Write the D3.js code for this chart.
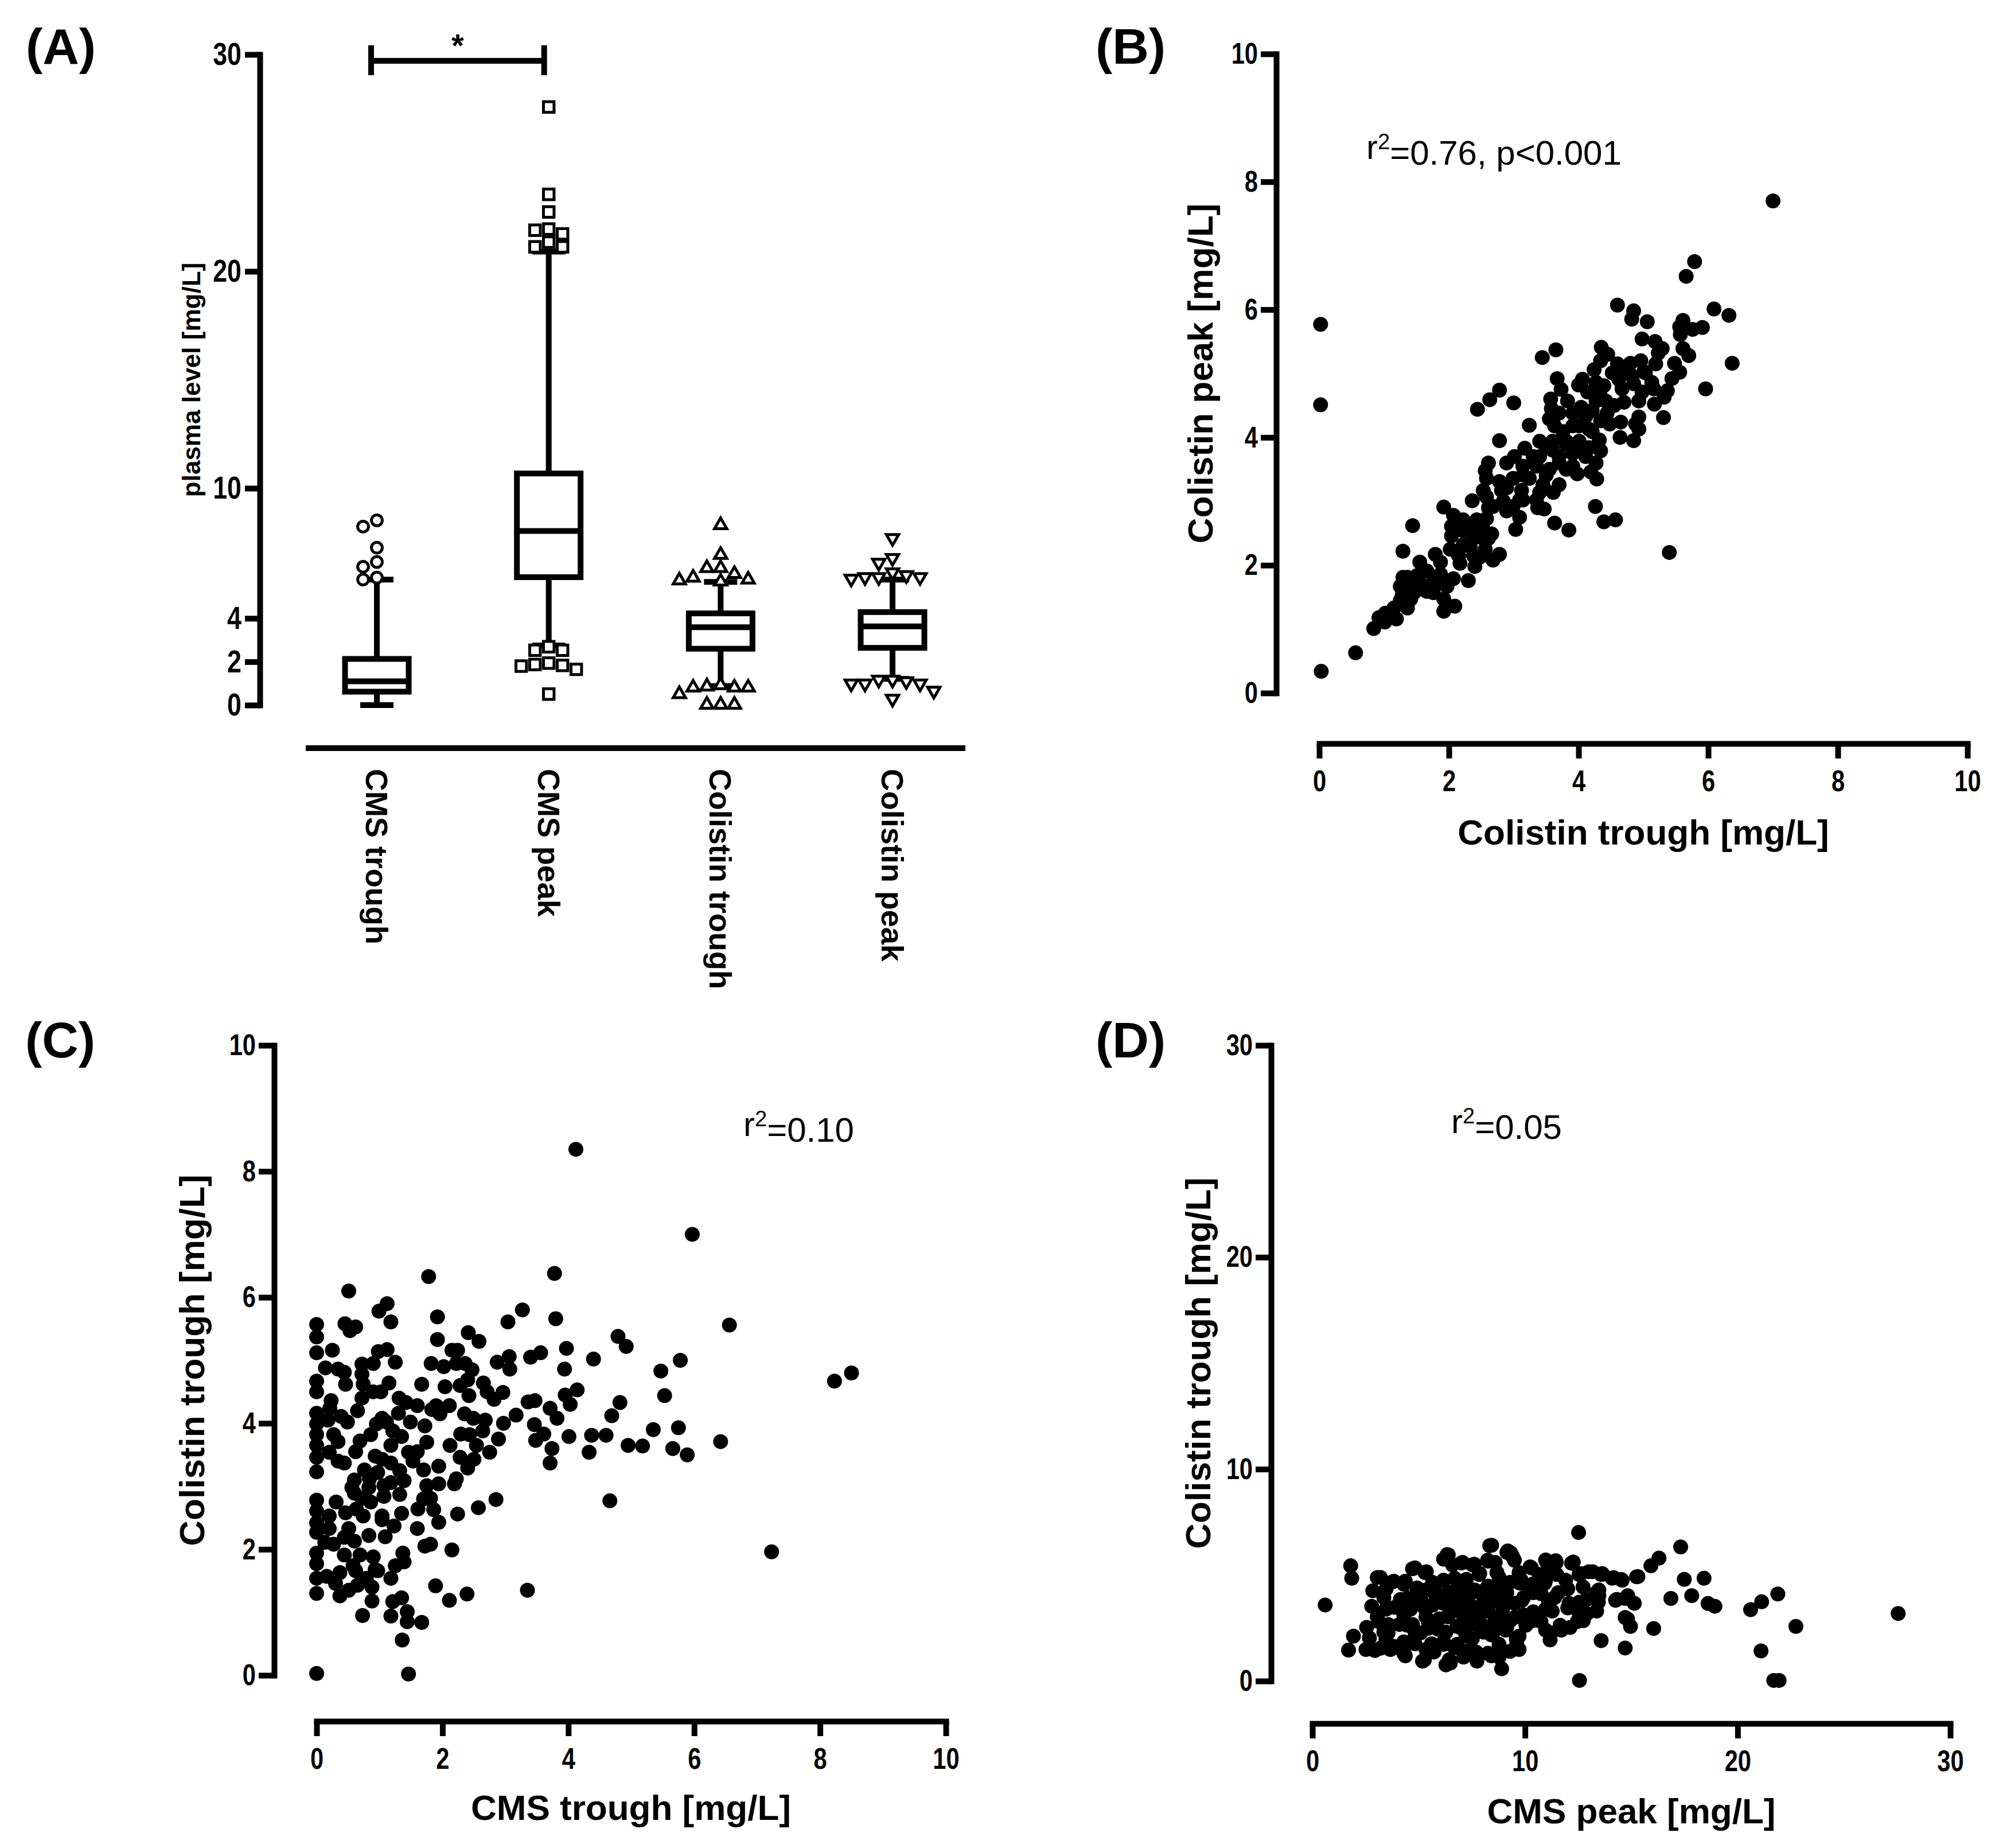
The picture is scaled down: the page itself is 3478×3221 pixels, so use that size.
<!DOCTYPE html>
<html>
<head>
<meta charset="utf-8">
<script src="https://cdn.jsdelivr.net/npm/d3@7"></script>
<style>
  body { margin: 0; background: #fff; }
</style>
</head>
<body>
<div id="chart"></div>
<script>
// ----------------------------------------------------------------- DATA ------------------------------------------------------ //
// (A) box plot
const boxCategories = ["CMS trough", "CMS peak", "Colistin trough", "Colistin peak"];
const boxMin    = [0.00, 2.75, 0.88, 1.21];
const boxQ1     = [0.62, 5.90, 2.60, 2.64];
const boxMedian = [1.10, 8.03, 3.59, 3.63];
const boxQ3     = [2.13, 10.68, 4.23, 4.29];
const boxMax    = [5.79, 20.91, 5.68, 5.79];
const boxTicks  = [0, 2, 4, 10, 20, 30];

const outCmsTrough = [8.52, 8.23, 7.26, 6.60, 6.38, 5.88, 5.79];
const outCmsPeak = [27.58, 23.55, 22.74, 21.95, 21.90, 21.73, 21.35, 21.13, 21.13,
                    2.69, 2.53, 2.53, 1.94, 1.87, 1.83, 1.80, 1.65, 0.51];
const outColTrough = [8.30, 6.93, 6.32, 6.32, 6.05, 5.88, 5.79, 5.75, 5.70,
                      0.92, 0.86, 0.81, 0.81, 0.81, 0.51, 0.02, 0.02, 0.02];
const outColPeak = [7.70, 6.78, 6.56, 6.12, 5.99, 5.90, 5.90, 5.90, 5.83,
                    1.17, 1.17, 1.10, 0.99, 0.99, 0.99, 0.66, 0.29];

// (B) colistin trough vs colistin peak  [x, y]
const scatterB = [
  [0.02,5.77],[0.02,4.51],[0.03,0.34],[0.56,0.63],[0.84,1.01],[7.0,7.7],
  [5.79,6.75],[5.66,6.52],[4.60,6.07],[4.85,5.98],[4.82,5.85],[5.06,5.81],[6.09,6.01],[6.32,5.91],[5.61,5.83],[5.56,5.73],
  [5.76,5.69],[5.91,5.72],[5.57,5.61],[4.98,5.54],[5.18,5.50],[6.37,5.16],[5.61,5.39],[5.70,5.28],[5.48,5.16],[5.56,5.02],
  [5.44,4.92],[5.96,4.76],[5.37,4.73],[5.32,4.63],[5.17,4.52],[5.31,4.31],
  [4.35,5.41],[4.45,5.30],[3.65,5.37],[3.44,5.25],[4.34,5.20],[4.24,5.06],[4.60,5.15],[4.80,5.16],[4.96,5.20],[5.23,5.32],
  [5.29,5.39],[5.19,5.15],[5.01,5.03],[4.72,5.01],[4.62,4.91],[5.13,4.86],[5.16,4.76],[4.98,4.71],[4.85,4.84],[4.70,4.55],
  [4.55,4.50],[4.39,4.81],[4.27,4.86],[4.06,4.91],[4.00,4.82],[4.14,4.71],[4.33,4.67],[3.67,4.92],[3.73,4.75],[3.57,4.60],
  [3.83,4.57],[3.58,4.45],[3.55,4.29],[3.91,4.38],[4.04,4.47],[4.21,4.42],[4.44,4.38],[4.65,4.24],[4.48,4.21],[4.34,4.26],
  [4.93,4.32],[4.88,4.21],[4.93,4.13],[4.64,4.00],[4.85,3.95],[3.63,4.18],[3.76,4.09],[4.01,4.18],[4.16,4.13],[4.32,3.96],
  [3.24,4.19],[2.78,4.74],[2.63,4.59],[2.44,4.44],[3.00,4.54],[2.78,3.95],[3.17,3.83],[3.50,3.84],[3.60,3.94],[3.81,3.89],
  [4.01,3.94],[4.16,3.84],[4.34,3.79],[3.40,3.70],[3.70,3.70],[3.91,3.75],[4.11,3.70],[4.27,3.60],[3.01,3.70],[2.89,3.60],
  [2.61,3.60],[2.56,3.48],[2.58,3.36],[3.14,3.55],[3.35,3.55],[3.55,3.50],[3.81,3.50],[3.98,3.43],[4.19,3.46],[4.28,3.35],
  [2.78,3.31],[2.99,3.36],[3.24,3.36],[3.45,3.26],[3.70,3.26],[2.53,3.17],[2.81,3.17],[3.12,3.17],[3.40,3.14],[3.61,3.14],
  [2.36,3.01],[2.58,3.07],[2.84,3.00],[3.09,3.02],[3.35,3.02],[2.61,2.90],[2.89,2.85],[3.09,2.75],[3.37,2.90],[3.47,2.88],
  [1.92,2.91],[4.26,2.92],[4.39,2.68],[4.57,2.71],[3.63,2.66],[3.85,2.55],[3.03,2.56],[2.07,2.78],[2.22,2.71],[2.43,2.71],
  [2.58,2.73],[2.04,2.61],[2.35,2.58],[2.53,2.56],[2.66,2.49],[2.04,2.46],[2.38,2.44],[2.61,2.42],[1.44,2.62],[5.40,2.20],
  [1.29,2.22],[2.02,2.25],[2.22,2.32],[2.33,2.29],[2.56,2.25],[2.78,2.17],[1.79,2.17],[2.15,2.15],[2.48,2.13],[2.68,2.08],
  [1.55,2.05],[1.87,2.05],[2.17,2.03],[2.40,1.98],[2.30,1.76],[1.29,1.81],[1.51,1.84],[1.66,1.91],[1.87,1.86],[2.07,1.79],
  [1.36,1.67],[1.56,1.71],[1.76,1.74],[1.97,1.67],[1.28,1.54],[1.46,1.57],[1.66,1.59],[1.92,1.47],[2.09,1.36],[1.92,1.28],
  [1.25,1.45],[1.36,1.33],[1.02,1.25],[0.92,1.18],[1.19,1.16],[1.01,1.11],
  [3.70,4.38],[3.91,4.18],[4.11,4.33],[3.81,3.94],[4.06,3.80],[4.21,4.09],[3.60,3.80],[3.40,3.94],[3.70,3.60],[3.91,3.55],
  [3.50,3.41],[3.30,3.70],[3.14,3.41],[4.52,5.01],[4.83,4.96],[5.03,5.01],[4.67,4.76],[4.42,4.57],[4.27,4.57],[4.93,4.57],
  [2.89,3.21],[3.14,3.02],[2.68,2.92],[2.99,2.92],[2.22,2.54],[2.48,2.44],[2.12,2.20],[2.38,2.15],[1.36,1.81],[1.61,1.62],
  [1.81,1.71],[1.41,1.47],[1.15,1.33],[1.76,1.57],[1.51,1.76],[1.25,1.67]
];

// (C) CMS trough vs colistin trough  [x, y]
const scatterC = [
  [4.12,8.35],[1.78,6.33],[3.78,6.38],[0.51,6.10],[1.12,5.90],[0.99,5.78],[1.18,5.61],[0.45,5.58],[0.62,5.53],[0.53,5.47],
  [1.92,5.69],[3.27,5.80],[3.04,5.61],[3.80,5.66],[0,5.57],[0,5.37],[0,5.12],[0.25,5.16],[1.92,5.33],[2.41,5.44],
  [2.58,5.30],[4.79,5.38],[4.92,5.22],[3.97,5.19],[2.15,5.16],[2.24,5.16],[0.98,5.14],[1.12,5.17],[1.25,4.97],[0.14,4.88],
  [0.34,4.86],[0.44,4.81],[0.72,4.94],[0.90,4.95],[1.82,4.95],[2.02,4.90],[2.22,4.95],[2.36,4.95],[2.47,4.85],[2.87,4.97],
  [3.06,5.06],[3.07,4.86],[3.40,5.05],[3.56,5.12],[4.40,5.02],[3.94,4.86],[0,4.67],[0.46,4.62],[0.74,4.62],[1.15,4.64],
  [1.67,4.62],[2.04,4.58],[2.28,4.60],[2.40,4.69],[2.65,4.64],[0.72,4.78],[0,4.50],[0.23,4.36],[0.72,4.40],[0.90,4.50],
  [1.02,4.50],[1.31,4.40],[2.42,4.44],[2.71,4.50],[2.82,4.38],[2.96,4.49],[4.14,4.53],[3.95,4.45],[3.36,4.34],[3.47,4.36],
  [4.03,4.30],[4.82,4.33],[0.21,4.24],[0.65,4.20],[1.60,4.28],[1.83,4.22],[1.90,4.28],[2.11,4.28],[1.30,4.16],[1.42,4.33],
  [0,4.16],[0.39,4.11],[1.04,4.08],[1.11,4.02],[1.49,4.02],[1.96,4.15],[2.35,4.15],[2.49,4.08],[2.68,4.05],[3.17,4.13],
  [3.71,4.24],[3.82,4.08],[4.69,4.12],[0,3.99],[0.18,4.05],[0.49,4.02],[0.95,3.99],[1.72,3.96],[2.97,4.00],[3.46,3.98],
  [3.61,3.83],[0,3.82],[0.27,3.82],[0.86,3.82],[1.21,3.88],[1.35,3.79],[2.29,3.83],[2.43,3.82],[2.64,3.88],[4.01,3.79],
  [4.37,3.81],[4.60,3.81],[4.95,3.65],[5.18,3.64],[0,3.65],[0.34,3.71],[0.69,3.72],[1.18,3.65],[1.75,3.70],[2.12,3.65],
  [2.54,3.65],[2.89,3.75],[3.48,3.73],[4.33,3.54],[3.74,3.60],[0,3.46],[0.20,3.54],[0.62,3.55],[0.93,3.48],[1.46,3.54],
  [1.60,3.55],[2.28,3.46],[2.50,3.43],[2.75,3.54],[3.71,3.37],[0.34,3.40],[0.44,3.37],[1.04,3.43],[1.18,3.37],[0,3.23],
  [0.76,3.26],[0.97,3.22],[1.32,3.25],[1.53,3.40],[1.70,3.26],[1.94,3.32],[2.40,3.29],[0.60,3.10],[0.84,3.12],[1.39,3.09],
  [2.22,3.12],[0.56,2.98],[0.83,2.98],[1.07,3.01],[1.18,3.06],[1.75,3.01],[1.94,3.04],[2.19,3.04],[0.60,2.89],[1.07,2.84],
  [1.32,2.87],[0,2.78],[0.31,2.75],[0.72,2.81],[0.86,2.75],[1.70,2.80],[1.81,2.81],[2.85,2.79],[4.66,2.77],[0,2.61],
  [0.20,2.53],[0.46,2.58],[0.63,2.64],[0.74,2.53],[1.04,2.53],[1.35,2.57],[1.61,2.64],[1.86,2.63],[2.57,2.66],[2.24,2.56],
  [0,2.42],[0.20,2.33],[0.51,2.33],[1.04,2.47],[1.23,2.37],[1.60,2.33],[1.94,2.43],[0.83,2.22],[1.09,2.20],[0,2.27],
  [0.13,2.11],[0.27,2.08],[0.44,2.19],[0.60,2.13],[1.72,2.05],[1.81,2.08],[2.15,1.99],[0,1.94],[0.44,1.91],[0.69,1.91],
  [0.90,1.88],[1.37,1.94],[0,1.77],[0.58,1.74],[0.93,1.68],[1.25,1.74],[1.39,1.80],[0.16,1.57],[0.37,1.63],[0.62,1.66],
  [0.79,1.54],[0.97,1.66],[1.18,1.54],[0,1.54],[0.30,1.46],[0.51,1.35],[0.65,1.43],[0.88,1.40],[0,1.30],[0.37,1.26],
  [0.88,1.18],[1.21,1.17],[1.35,1.23],[1.89,1.42],[2.11,1.19],[2.39,1.29],[3.35,1.35],[0.73,0.95],[1.18,0.94],[1.44,1.01],
  [1.44,0.85],[1.67,0.84],[1.36,0.56],[0,0.03],[1.46,0.02],
  [5.97,7.00],[6.56,5.56],[5.78,5.00],[5.47,4.83],[8.50,4.80],[8.23,4.67],[5.53,4.44],[5.35,3.90],[5.75,3.93],[5.66,3.60],
  [5.89,3.50],[6.42,3.71],[7.23,1.96]
];

// (D) CMS peak vs colistin trough  [x, y]
const scatterD = [
  [0.60,3.59],[1.80,5.44],[1.85,4.85],[3.05,4.89],[2.84,4.26],[2.79,3.53],[3.05,3.03],[2.55,2.53],[1.93,2.12],[1.70,1.46],
  [2.52,1.49],[2.94,1.44],[2.68,2.03],[3.46,1.94],[3.67,1.49],[4.30,1.31],[3.72,4.66],[4.30,4.57],[4.14,3.85],[3.88,3.48],
  [4.30,3.12],[4.09,2.67],[4.71,5.30],[5.29,5.12],[4.92,4.39],[4.82,2.31],[5.18,0.94],[5.60,1.76],[6.17,5.75],[6.28,0.76],
  [6.59,5.48],[7.01,5.57],[7.53,5.48],[8.34,6.39],[9.15,6.07],[9.41,5.89],[8.26,5.66],[8.68,5.12],[7.84,5.03],[7.22,4.76],
  [6.69,4.85],[6.17,4.76],[5.65,4.66],[5.34,4.30],[5.76,4.12],[6.38,4.21],[7.01,4.30],[7.63,4.30],[8.26,4.48],[8.88,4.39],
  [9.30,4.66],[9.72,5.12],[10.24,5.39],[10.97,5.71],[11.44,5.68],[12.20,5.57],[11.23,5.25],[10.66,5.03],[9.82,4.76],[10.35,4.57],
  [10.97,4.76],[11.49,5.03],[11.91,4.76],[12.54,5.03],[13.00,5.16],[13.58,5.03],[14.10,4.85],[14.57,4.76],[15.25,4.92],[15.92,5.44],
  [16.30,5.80],[12.52,7.01],[13.47,4.30],[12.90,3.85],[12.07,3.67],[11.39,3.94],[10.76,4.12],[10.24,4.30],[9.93,3.94],[9.51,3.67],
  [9.09,3.94],[8.68,4.12],[8.05,3.94],[7.43,4.12],[6.80,4.30],[6.49,3.48],[6.17,3.67],[5.65,3.58],[5.13,3.76],[4.61,3.39],
  [5.34,3.03],[5.97,2.94],[6.38,3.03],[7.01,3.21],[7.63,3.48],[8.26,3.30],[8.78,3.03],[9.30,2.85],[9.93,3.12],[10.35,2.85],
  [10.97,3.39],[11.28,3.30],[12.54,3.21],[13.37,3.30],[13.47,4.03],[14.31,3.85],[14.83,4.03],[15.14,3.67],[14.82,2.93],[14.96,2.58],
  [12.74,2.85],[12.12,2.53],[11.70,2.40],[10.97,2.40],[11.18,1.94],[13.58,1.91],[14.71,1.56],[16.05,2.48],[12.56,0.03],[8.90,0.58],
  [9.61,1.76],[9.72,2.12],[9.09,2.40],[8.47,2.21],[8.05,2.31],[7.43,2.67],[6.80,2.58],[6.28,2.31],[5.76,2.58],[6.17,1.85],
  [6.69,1.58],[7.22,1.40],[7.74,0.94],[8.26,1.31],[8.78,1.13],[9.30,1.40],[9.72,1.49],[7.11,1.13],[6.49,0.85],[5.34,1.49],
  [4.82,1.76],[4.30,1.85],[3.88,1.58],[3.36,2.31],[3.57,2.67],[3.46,3.39],[3.36,3.94],[4.51,3.94],[4.71,2.67],[5.44,2.49],
  [7.22,2.12],[7.84,2.94],[8.47,2.67],[8.88,3.76],[7.22,3.76],[6.69,3.76],[8.43,6.41],[9.19,6.14],[6.39,5.96],[12.27,5.62],
  [17.32,6.33],[17.49,4.80],[18.42,4.85],[16.86,3.90],[17.84,4.03],[18.61,3.66],[18.93,3.53],[20.61,3.37],[21.13,3.74],[21.89,4.11],
  [22.74,2.58],[21.10,1.42],[21.70,0.03],[21.95,0.03],[27.55,3.19],[15.31,4.93],[13.65,5.04],
  [6.34,5.97],[7.06,5.60],[7.61,5.52],[8.24,5.70],[8.60,5.60],[9.32,6.06],[9.50,5.70],[10.30,5.34],[11.02,5.60],[11.47,5.60],
  [12.19,5.56],[12.64,5.07],[13.18,5.16],[13.63,5.07],[14.17,4.88],[14.53,4.79],[4.82,5.34],[5.36,5.16],[4.37,4.71],[3.83,4.71],
  [3.20,4.89],[3.47,4.35],[4.18,3.72],[3.56,3.45],[3.11,2.81],[3.56,2.27],[3.20,1.55],[3.83,1.64],[4.37,1.19],[5.27,1.01],
  [4.73,1.91],[4.46,2.63],[5.09,2.27],[5.45,2.81],[5.27,3.45],[4.82,3.99],[5.72,4.35],[5.99,3.72],[6.44,3.18],[5.90,2.45],
  [6.17,1.73],[5.72,1.37],[6.44,1.01],[6.80,1.73],[7.06,2.45],[7.33,3.00],[6.89,4.17],[7.24,4.80],[7.87,5.07],[8.05,4.26],
  [8.42,3.72],[7.79,3.45],[7.87,2.54],[7.52,2.00],[7.70,1.37],[8.42,1.19],[8.78,1.73],[8.42,2.18],[9.14,2.54],[9.50,3.00],
  [8.96,3.45],[9.14,4.17],[8.78,4.89],[9.76,4.62],[9.86,3.81],[10.39,3.27],[10.04,2.63],[9.59,2.00],[9.59,1.55],[10.39,4.17],
  [10.93,4.62],[11.11,3.72],[10.75,2.81],[11.56,4.17],[12.01,3.45],[12.55,3.72],[12.91,3.18],[12.46,2.81],[11.65,2.63],[11.20,2.27],
  [12.01,4.35],[12.73,4.44],[13.36,4.17],[13.45,3.72],[14.71,3.90],[14.71,3.00],[14.26,3.81]
];

const ticks10 = [0, 2, 4, 6, 8, 10];
const ticks30 = [0, 10, 20, 30];

// ----------------------------------------------------------------- SVG ------------------------------------------------------- //
const W = 3478, H = 3221;
const svg = d3.select("#chart")
  .append("svg")
  .attr("width", W)
  .attr("height", H)
  .attr("viewBox", `0 0 ${W} ${H}`)
  .style("background", "#fff");

const mainFont = "'Liberation Sans',Arial,Helvetica,sans-serif";
const LW = 10;   // line width of axes and boxes

// tick labels: bold Arial squeezed horizontally, like Arial Narrow
function styleAxis(g, size) {
  g.select(".domain").attr("stroke", "#000").attr("stroke-width", LW).attr("stroke-linecap", "square");
  g.selectAll(".tick line").attr("stroke", "#000").attr("stroke-width", LW);
  g.selectAll(".tick text")
    .attr("fill", "#000")
    .style("font-family", mainFont)
    .style("font-weight", "bold")
    .style("font-size", size + "px")
    .each(function () {
      const t = d3.select(this);
      const x0 = +t.attr("x") || 0;
      t.attr("x", 0).attr("transform", `translate(${x0},0) scale(0.8,1)`);
    });
}

function panelLabel(txt, x, y) {
  svg.append("text").attr("x", x).attr("y", y).text(txt)
    .style("font-family", mainFont).style("font-weight", "bold").style("font-size", "88px");
}

function yTitle(txt, x, y, size) {
  svg.append("text")
    .attr("transform", `translate(${x},${y}) rotate(-90)`)
    .attr("text-anchor", "middle").attr("dy", "0.35em")
    .text(txt)
    .style("font-family", mainFont).style("font-weight", "bold").style("font-size", size + "px");
}

function xTitle(txt, x, y) {
  svg.append("text").attr("x", x).attr("y", y)
    .attr("text-anchor", "middle").attr("dy", "0.35em")
    .text(txt)
    .style("font-family", mainFont).style("font-weight", "bold").style("font-size", "62px");
}

function rSquared(rest, x, y) {
  const t = svg.append("text").attr("x", x).attr("y", y)
    .style("font-family", mainFont).style("font-size", "60px");
  t.append("tspan").text("r");
  t.append("tspan").attr("dy", "-0.45em").style("font-size", "38px").text("2");
  t.append("tspan").attr("dy", "0.45em").text(rest);
}

// -------------------------------------------------------------- PANEL A ------------------------------------------------------ //
panelLabel("(A)", 45, 111);

const aY = d3.scaleLinear().domain([0, 30]).range([1229, 95]);
const aX = d3.scalePoint().domain(boxCategories).range([657, 1556]);
const boxW = 111, capW = 58;

svg.append("g")
  .attr("transform", "translate(453,0)")
  .call(d3.axisLeft(aY).tickValues(boxTicks).tickSize(26).tickSizeOuter(0).tickPadding(6))
  .call(g => styleAxis(g, 56));

yTitle("plasma level [mg/L]", 334, 662, 44);

// category axis (line only, labels rotated)
svg.append("line")
  .attr("x1", aX(boxCategories[0]) - 124).attr("x2", aX(boxCategories[3]) + 127)
  .attr("y1", 1304).attr("y2", 1304)
  .attr("stroke", "#000").attr("stroke-width", LW);

svg.selectAll(".catLabel")
  .data(boxCategories)
  .enter()
  .append("text")
  .attr("class", "catLabel")
  .attr("transform", d => `translate(${aX(d)},1340) rotate(90)`)
  .attr("dy", "0.35em")
  .text(d => d)
  .style("font-family", mainFont).style("font-weight", "bold").style("font-size", "54px");

// boxes
const boxG = svg.append("g").attr("fill", "none").attr("stroke", "#000").attr("stroke-width", LW);
boxCategories.forEach(function (c, i) {
  const cx = aX(c);
  boxG.append("line").attr("x1", cx).attr("x2", cx).attr("y1", aY(boxQ3[i])).attr("y2", aY(boxMax[i]));
  boxG.append("line").attr("x1", cx).attr("x2", cx).attr("y1", aY(boxQ1[i])).attr("y2", aY(boxMin[i]));
  boxG.append("line").attr("x1", cx - capW / 2).attr("x2", cx + capW / 2).attr("y1", aY(boxMax[i])).attr("y2", aY(boxMax[i]));
  boxG.append("line").attr("x1", cx - capW / 2).attr("x2", cx + capW / 2).attr("y1", aY(boxMin[i])).attr("y2", aY(boxMin[i]));
  boxG.append("rect")
    .attr("x", cx - boxW / 2).attr("y", aY(boxQ3[i]))
    .attr("width", boxW).attr("height", aY(boxQ1[i]) - aY(boxQ3[i]))
    .attr("fill", "#fff");
  boxG.append("line").attr("x1", cx - boxW / 2).attr("x2", cx + boxW / 2).attr("y1", aY(boxMedian[i])).attr("y2", aY(boxMedian[i]));
});

// outliers, spread sideways when they overlap
function dodge(values, step, minGap) {
  const placed = [];
  values.slice().sort((a, b) => b - a).forEach(function (v) {
    const py = aY(v);
    for (const k of [0, -1, 1, -2, 2, -3, 3]) {
      const px = k * step;
      if (placed.every(p => Math.hypot(p.px - px, p.py - py) >= minGap)) {
        placed.push({ v: v, px: px, py: py });
        break;
      }
    }
  });
  return placed;
}

const outlierSets = [outCmsTrough, outCmsPeak, outColTrough, outColPeak];
const outlierSymbols = [
  d3.symbol().type(d3.symbolCircle).size(280),
  d3.symbol().type(d3.symbolSquare).size(340),
  d3.symbol().type(d3.symbolTriangle).size(200),
  d3.symbol().type(d3.symbolTriangle).size(200)
];
outlierSets.forEach(function (vals, i) {
  const cx = aX(boxCategories[i]);
  svg.append("g")
    .selectAll("path")
    .data(dodge(vals, 24, 22))
    .enter()
    .append("path")
    .attr("d", outlierSymbols[i]())
    .attr("transform", d => `translate(${cx + d.px},${d.py})` + (i === 3 ? " rotate(180)" : ""))
    .attr("fill", "#fff")
    .attr("stroke", "#000")
    .attr("stroke-width", 5);
});

// significance bracket CMS trough vs CMS peak
const brY = aY(30) + 11;
const brX1 = aX(boxCategories[0]) - 10, brX2 = aX(boxCategories[1]) - 8;
const brG = svg.append("g").attr("stroke", "#000").attr("stroke-width", LW);
brG.append("line").attr("x1", brX1).attr("x2", brX2).attr("y1", brY).attr("y2", brY);
brG.append("line").attr("x1", brX1).attr("x2", brX1).attr("y1", brY - 27).attr("y2", brY + 25);
brG.append("line").attr("x1", brX2).attr("x2", brX2).attr("y1", brY - 27).attr("y2", brY + 25);
svg.append("text").attr("x", (brX1 + brX2) / 2).attr("y", brY - 8)
  .attr("text-anchor", "middle").text("*")
  .style("font-family", mainFont).style("font-weight", "bold").style("font-size", "56px");

// ------------------------------------------------------------ SCATTER PANELS -------------------------------------------------- //
function scatterPanel(data, xDomain, yDomain, xRange, yRange, ticks, yAxisX, xAxisY) {
  const x = d3.scaleLinear().domain(xDomain).range(xRange);
  const y = d3.scaleLinear().domain(yDomain).range(yRange);

  svg.append("g")
    .attr("transform", `translate(${yAxisX},0)`)
    .call(d3.axisLeft(y).tickValues(ticks).tickSize(27).tickSizeOuter(0).tickPadding(5))
    .call(g => styleAxis(g, 52));

  svg.append("g")
    .attr("transform", `translate(0,${xAxisY})`)
    .call(d3.axisBottom(x).tickValues(ticks).tickSize(26).tickSizeOuter(0).tickPadding(20))
    .call(g => styleAxis(g, 52));

  svg.append("g")
    .selectAll("circle")
    .data(data)
    .enter()
    .append("circle")
    .attr("cx", d => x(d[0]))
    .attr("cy", d => y(d[1]))
    .attr("r", 13)
    .attr("fill", "#000");
}

// (B)
panelLabel("(B)", 1910, 111);
scatterPanel(scatterB, [0, 10], [0, 10], [2300, 3430], [1208, 94], ticks10, 2225, 1296);
yTitle("Colistin peak [mg/L]", 2092, 651, 62);
xTitle("Colistin trough [mg/L]", 2865, 1450);
rSquared("=0.76, p<0.001", 2382, 277);

// (C)
panelLabel("(C)", 44, 1843);
scatterPanel(scatterC, [0, 10], [0, 10], [552, 1649], [2920, 1822], ticks10, 478, 3000);
yTitle("Colistin trough [mg/L]", 334, 2371, 62);
xTitle("CMS trough [mg/L]", 1100, 3150);
rSquared("=0.10", 1296, 1980);

// (D)
panelLabel("(D)", 1910, 1843);
scatterPanel(scatterD, [0, 30], [0, 30], [2288, 3400], [2930, 1822], ticks30, 2216, 3004);
yTitle("Colistin trough [mg/L]", 2088, 2376, 62);
xTitle("CMS peak [mg/L]", 2844, 3156);
rSquared("=0.05", 2530, 1975);
</script>
</body>
</html>
